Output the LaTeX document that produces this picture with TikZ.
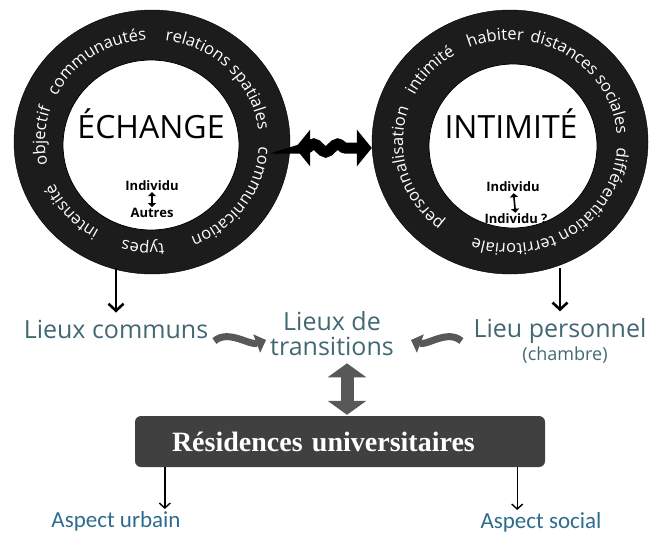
\documentclass[tikz,border=0pt]{standalone}
\usepackage{fontspec}
\usepackage{tikz}
\usetikzlibrary{positioning, arrows.meta, calc, shapes.geometric, decorations.text, decorations.pathmorphing}

\newfontfamily\opensans{Open Sans}
\newfontfamily\carlito{Carlito}
\newfontfamily\serifbold{Liberation Serif}

\definecolor{ringdark}{RGB}{28, 28, 28}
\definecolor{placeteal}{RGB}{66, 104, 114}
\definecolor{aspectblue}{RGB}{46, 108, 142}
\definecolor{boxgray}{RGB}{64, 64, 64}
\definecolor{arrowgray}{RGB}{88, 88, 88}

\newcommand{\ringfont}{\opensans\fontsize{16.5}{17}\selectfont}
% words written round a ring: centre node, middle angle, text
\newcommand{\ringtext}[3]{%
  \path[decorate, decoration={text along path, text color=white, text align=center,
      text={|\ringfont|#3}}]
    ($(#1)+({#2+80}:107 and 102)$) arc[start angle={#2+80}, end angle={#2-80}, x radius=107, y radius=102];}

\begin{document}
\begin{tikzpicture}[x=1pt, y=1pt,
        ring/.style={ellipse, fill=ringdark, draw=black, minimum width=276pt, minimum height=264pt, inner sep=0pt},
        hole/.style={ellipse, fill=white, draw=black, line width=0.8pt, inner sep=0pt},
        title/.style={font=\opensans\fontsize{32}{32}\selectfont},
        who/.style={font=\opensans\bfseries\fontsize{13}{14}\selectfont, inner sep=1pt},
        place/.style={text=placeteal, font=\opensans\fontsize{25}{25}\selectfont, align=center, inner sep=2pt},
        sub/.style={text=placeteal, font=\opensans\fontsize{18}{18}\selectfont, inner sep=1pt},
        aspect/.style={text=aspectblue, font=\carlito\fontsize{23}{24}\selectfont, inner sep=2pt},
        resbox/.style={fill=boxgray, rounded corners=6pt, minimum height=51pt, text=white, font=\serifbold\bfseries\fontsize{28}{28}\selectfont, text width=336pt, inner xsep=37pt, align=left},
        swap/.style={line width=1.6pt, {Triangle[width=8pt,length=4pt]}-{Triangle[width=8pt,length=4pt]}},
        wave/.style={line width=11pt, {Triangle[width=36pt,length=15pt]}-{Triangle[width=36pt,length=15pt]}, decorate, decoration={snake, amplitude=4pt, segment length=24pt, pre length=16pt, post length=16pt}},
        garrow/.style={draw=arrowgray, line width=7pt, -{Triangle[width=19pt,length=10pt]}},
        bigarrow/.style={draw=arrowgray, line width=13pt, {Triangle[width=38pt,length=14pt]}-{Triangle[width=38pt,length=14pt]}},
        ringarrow/.style={line width=2.6pt, -{Straight Barb[length=7pt,width=15pt]}},
        thinarrow/.style={line width=1.4pt, -{Straight Barb[length=5pt,width=11pt]}}
      ]
        \useasboundingbox (0,0) rectangle (652,-533);

        % the two rings
        \node[ring] (echange) at (152,-142) {};
        \node[hole, minimum width=176pt, minimum height=170pt] (echangein) at (151,-145) {};
        \node[ring] (intimite) at (510,-142) {};
        \node[hole, minimum width=168pt, minimum height=164pt] (intimitein) at (513,-146) {};

        \ringtext{echange}{177}{objectif}
        \ringtext{echange}{124}{communautés}
        \ringtext{echange}{44}{relations spatiales}
        \ringtext{echange}{-35}{communication}
        \ringtext{echange}{-95}{types}
        \ringtext{echange}{-139}{intensité}

        \ringtext{intimite}{196}{personnalisation}
        \ringtext{intimite}{138}{intimité}
        \ringtext{intimite}{98}{habiter}
        \ringtext{intimite}{41}{distances sociales}
        \ringtext{intimite}{-56}{différentiation territoriale}

        \node[title] (echtitle) at (151,-124) {ÉCHANGE};
        \node[who] (indA) at (152,-186) {Individu};
        \node[who] (autres) at (152,-213) {Autres};
        \draw[swap] (indA) -- (autres);

        \node[title] (inttitle) at (511,-124) {INTIMITÉ};
        \node[who] (indB) at (513,-187) {Individu};
        \node[who] (indC) at (516,-219) {Individu ?};
        \draw[swap] (indB) -- (indC);

        \draw[wave, shorten <=5pt] ([yshift=-6pt]echange.east) -- ([yshift=-6pt]intimite.west);

        % places
        \node[place] (communs) at (116,-329) {Lieux communs};
        \node[place] (transit) at (332,-334) {Lieux de\\transitions};
        \node[place] (perso)   at (560,-331) {Lieu personnel};
        \node[sub]   (chambre) at (565,-355) {(chambre)};

        \draw[ringarrow, shorten >=5pt] ([yshift=6pt]echange.south -| communs.north) -- (communs.north);
        \draw[ringarrow, shorten >=5pt] ([yshift=6pt]intimite.south -| perso.north) -- (perso.north);
        \draw[garrow] ([xshift=4pt,yshift=-12pt]communs.east) .. controls +(14pt,12pt) and +(-16pt,-6pt) .. ([xshift=-2pt,yshift=-6pt]transit.west);
        \draw[garrow] ([xshift=-10pt,yshift=-10pt]perso.west) .. controls +(-14pt,12pt) and +(16pt,-6pt) .. ([xshift=15pt,yshift=-6pt]transit.east);

        % residences
        \node[resbox] (res) at (340,-441.5) {Résidences universitaires};
        \draw[bigarrow, shorten >=5pt, shorten <=1pt] ([xshift=7pt]res.north) -- ([xshift=7pt]res.north |- transit.south);

        \node[aspect] (urbain) at (116,-521) {Aspect urbain};
        \node[aspect] (social) at (541,-522) {Aspect social};
        \draw[thinarrow] ([xshift=30pt]res.south west) -- ([xshift=30pt]res.south west |- urbain.north);
        \draw[thinarrow] ([xshift=-28pt]res.south east) -- ([xshift=-28pt]res.south east |- social.north);
      \end{tikzpicture}
\end{document}
